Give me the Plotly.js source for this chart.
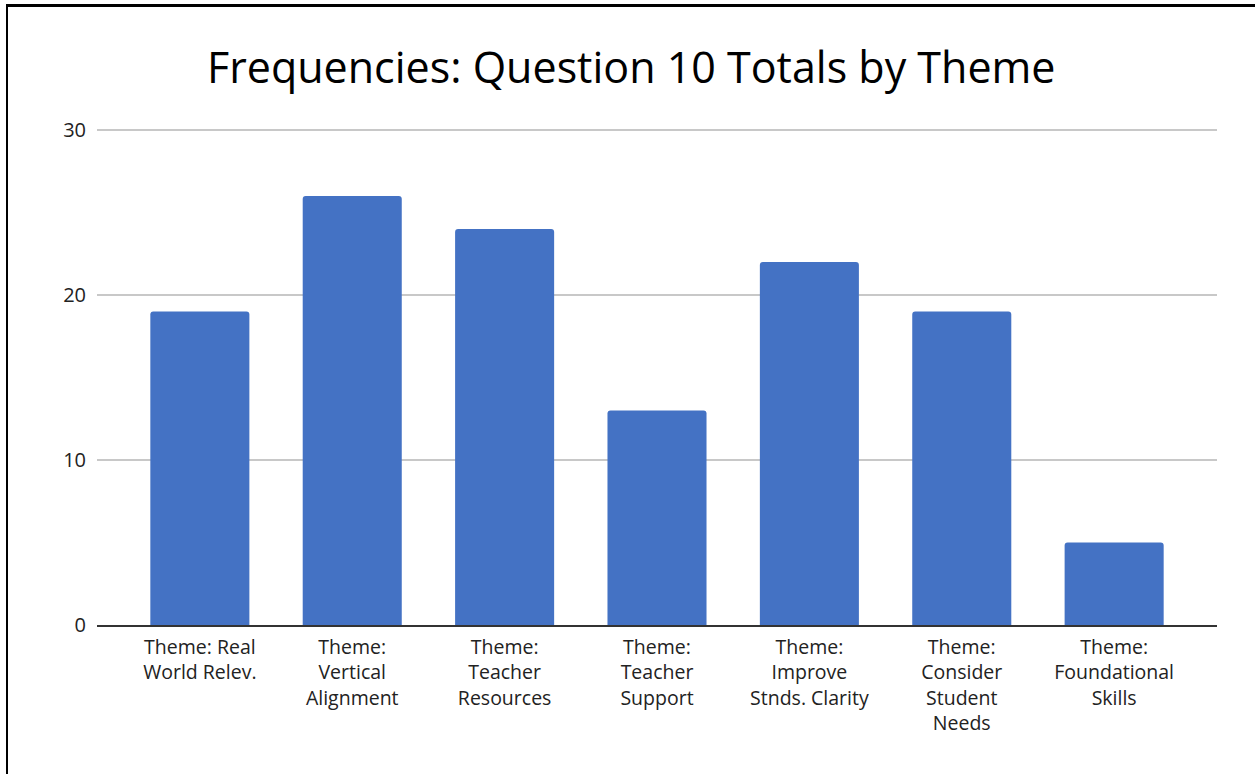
<!DOCTYPE html>
<html>
<head>
<meta charset="utf-8">
<script src="https://cdn.plot.ly/plotly-3.0.1.min.js"></script>
<style>
  html, body { margin: 0; padding: 0; background: #fff; }
  #chart { width: 1255px; height: 774px; }
  #frame { position: absolute; left: 6px; top: 4px; width: 1260px; height: 780px;
           border-left: 2px solid #000; border-top: 3px solid #000; pointer-events: none; }
</style>
</head>
<body>
<div id="chart"></div>
<div id="frame"></div>
<script>
const categories = [
  "Theme: Real<br>World Relev.",
  "Theme:<br>Vertical<br>Alignment",
  "Theme:<br>Teacher<br>Resources",
  "Theme:<br>Teacher<br>Support",
  "Theme:<br>Improve<br>Stnds. Clarity",
  "Theme:<br>Consider<br>Student<br>Needs",
  "Theme:<br>Foundational<br>Skills"
];
const totals = [19, 26, 24, 13, 22, 19, 5];
const yTicks = [0, 10, 20, 30];
const chartTitle = "Frequencies: Question 10 Totals by Theme";

const font = "Open Sans, Noto Sans, sans-serif";

Plotly.newPlot("chart", [{
  type: "bar",
  x: categories,
  y: totals,
  width: 0.65,
  marker: { color: "#4472c4", cornerradius: 3 },
  hoverinfo: "x+y"
}], {
  width: 1255,
  height: 774,
  margin: { l: 97, r: 38, t: 125, b: 149 },
  paper_bgcolor: "#fff",
  plot_bgcolor: "#fff",
  showlegend: false,
  title: {
    text: chartTitle,
    x: 0.503, xanchor: "center",
    y: 0.912, yanchor: "middle",
    font: { family: font, size: 43, color: "#000" }
  },
  xaxis: {
    type: "category",
    range: [-0.675, 6.675],
    showgrid: false,
    showline: true,
    linecolor: "#333",
    linewidth: 1.5,
    ticks: "",
    ticklabelstandoff: 4,
    tickfont: { family: font, size: 19.5, color: "#222" },
    fixedrange: true
  },
  yaxis: {
    range: [0, 30.3],
    tickvals: yTicks,
    ticktext: yTicks.map(String),
    showgrid: true,
    gridcolor: "#c8c8c8",
    gridwidth: 1.3,
    zeroline: false,
    showline: false,
    ticks: "",
    ticklabelstandoff: 10,
    tickfont: { family: font, size: 20, color: "#222" },
    fixedrange: true
  },
  font: { family: font }
}, { displayModeBar: false, staticPlot: true });
</script>
</body>
</html>
